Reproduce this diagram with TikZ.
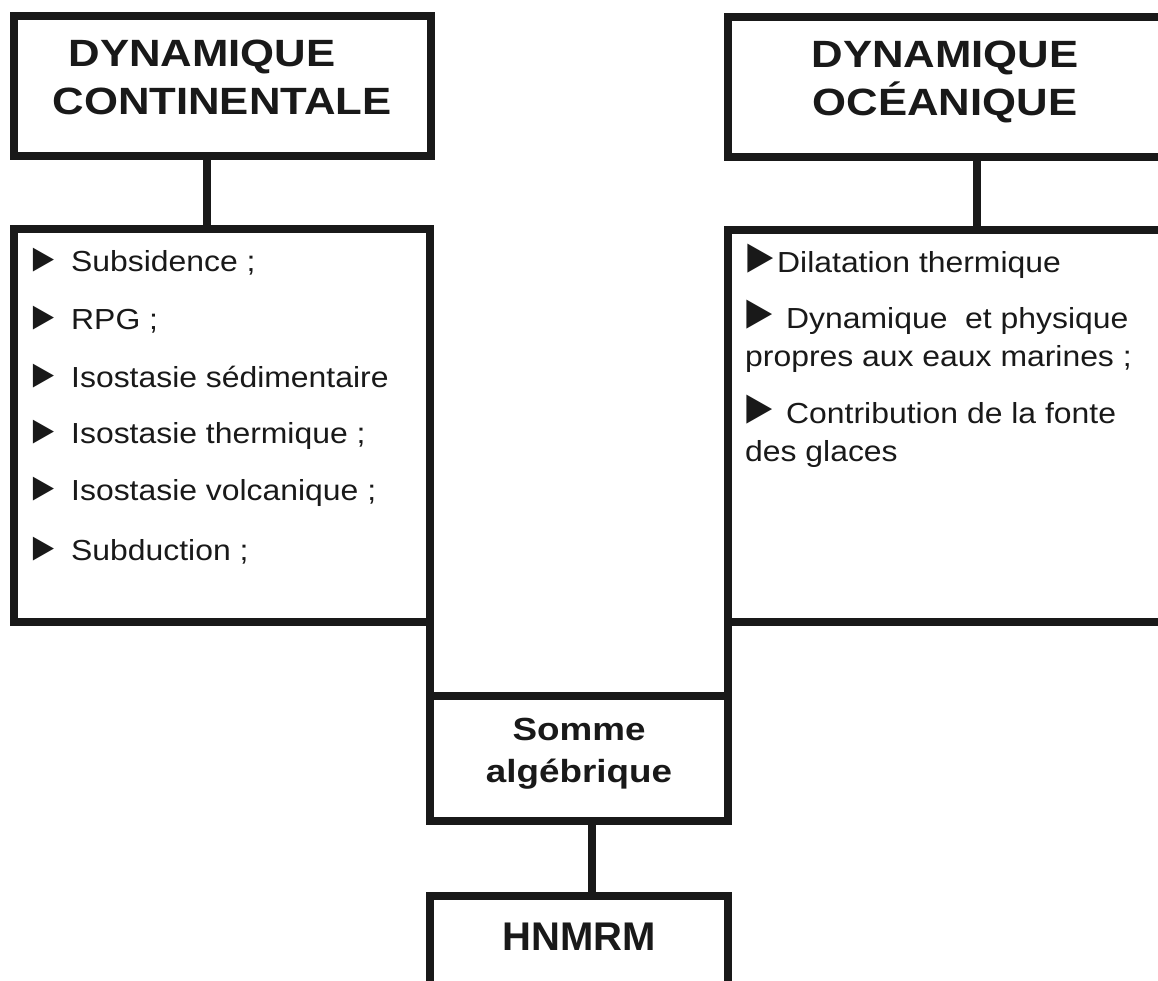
\documentclass[tikz,border=0pt]{standalone}
\usepackage{fontspec}
\setmainfont{Liberation Sans}
\newfontfamily\widebold[FakeStretch=1.15]{Liberation Sans}
\newfontfamily\wideregular[FakeStretch=1.1]{Liberation Sans}
\newcommand{\tribul}[3]{\makebox[#2][l]{\hspace*{#3}\smash{\scalebox{1}[1.25]{\fontsize{#1}{#1}\selectfont ►}}}}
\begin{document}
\begin{tikzpicture}[x=1pt,y=-1pt,
  box/.style={draw=black!90, line width=8pt, fill=white, inner sep=0pt, outer sep=0pt},
  conn/.style={draw=black!90, line width=8pt},
  titletext/.style={inner sep=0pt, align=center, font=\widebold\bfseries\fontsize{38}{48}\selectfont, text=black!90},
  sumtext/.style={inner sep=0pt, align=center, font=\widebold\bfseries\fontsize{32}{42}\selectfont, text=black!90},
  hntext/.style={inner sep=0pt, font=\bfseries\fontsize{40}{48}\selectfont, text=black!90},
  item/.style={inner sep=0pt, align=left, font=\wideregular\fontsize{29}{38}\selectfont, text=black!90}
]
\useasboundingbox (0,0) rectangle (1158,981);
\fill[white] (0,0) rectangle (1158,981);
\begin{scope}
\clip (0,0) rectangle (1158,981);
% boxes
\node[box, minimum width=417pt, minimum height=140pt] (ct) at (222.5,86) {};
\node[box, minimum width=416pt, minimum height=393pt] (cl) at (222,425.5) {};
\node[box, minimum width=434pt, minimum height=140pt] (ot) at (945,87) {};
\node[box, minimum width=434pt, minimum height=392pt] (ol) at (945,426) {};
\node[box, minimum width=298pt, minimum height=125pt] (sum) at (579,758.5) {};
\node[box, minimum width=298pt, minimum height=114pt] (hn) at (579,953) {};
% connector x positions
\coordinate (c1) at (207,0);
\coordinate (c2) at (977,0);
\coordinate (c3) at (592,0);
% connectors
\draw[conn] (ct.south -| c1) -- (cl.north -| c1);
\draw[conn] (ot.south -| c2) -- (ol.north -| c2);
\draw[conn] (cl.south east) -- (sum.north west);
\draw[conn] (ol.south west) -- (sum.north east);
\draw[conn] (sum.south -| c3) -- (hn.north -| c3);
% titles
\node[titletext, anchor=north] (ctt) at (222,40) {DYNAMIQUE\hspace*{40pt}\\CONTINENTALE};
\node[titletext, anchor=north] (ott) at (945,41) {DYNAMIQUE\\OCÉANIQUE};
% left list
\node[item, anchor=base west] (l1) at (31,272) {\tribul{32pt}{40pt}{-5pt}Subsidence ;};
\node[item, anchor=base west] (l2) at (31,330) {\tribul{32pt}{40pt}{-5pt}RPG ;};
\node[item, anchor=base west] (l3) at (31,387) {\tribul{32pt}{40pt}{-5pt}Isostasie sédimentaire};
\node[item, anchor=base west] (l4) at (31,443) {\tribul{32pt}{40pt}{-5pt}Isostasie thermique ;};
\node[item, anchor=base west] (l5) at (31,500) {\tribul{32pt}{40pt}{-5pt}Isostasie volcanique ;};
\node[item, anchor=base west] (l6) at (31,560) {\tribul{32pt}{40pt}{-5pt}Subduction ;};
% right list
\node[item, anchor=base west] (r1) at (745,273) {\tribul{39pt}{32pt}{-6pt}Dilatation thermique};
\node[item, anchor=north west] (r2) at (745,307) {\tribul{39pt}{41pt}{-7pt}Dynamique\ \ et physique\\propres aux eaux marines ;};
\node[item, anchor=north west] (r3) at (745,402) {\tribul{39pt}{41pt}{-7pt}Contribution de la fonte\\des glaces};
% bottom
\node[sumtext, anchor=north] (sumt) at (579,718) {Somme\\algébrique};
\node[hntext, anchor=base] (hnt) at (579,950) {HNMRM};
\end{scope}
\end{tikzpicture}
\end{document}
